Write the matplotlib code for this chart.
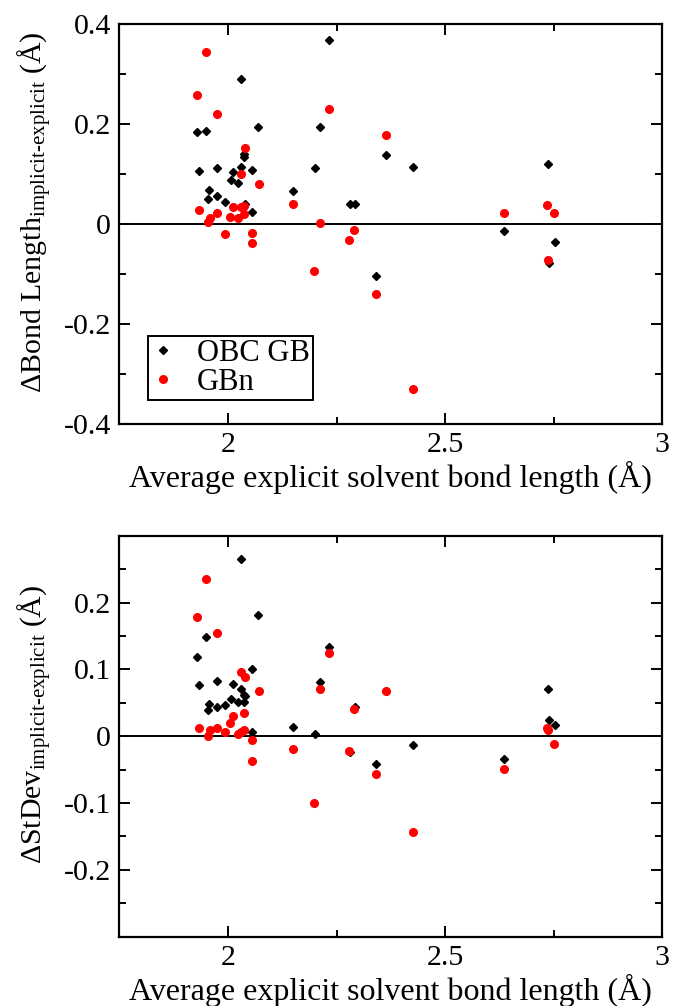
import matplotlib
matplotlib.use("Agg")
import matplotlib.pyplot as plt
from matplotlib.ticker import MultipleLocator

plt.rcParams['font.family'] = ['Liberation Serif', 'DejaVu Serif']
plt.rcParams['mathtext.fontset'] = 'custom'
plt.rcParams['mathtext.rm'] = 'Liberation Serif'
plt.rcParams['mathtext.it'] = 'Liberation Serif:italic'
plt.rcParams['axes.unicode_minus'] = False

# explicit solvent bond lengths (x) for each model
obc_x = [1.929, 1.933, 1.950, 1.953, 1.957, 1.974, 1.974, 1.993, 2.006, 2.012, 2.023,
         2.029, 2.031, 2.036, 2.037, 2.038, 2.055, 2.056, 2.069, 2.150, 2.200, 2.212,
         2.232, 2.282, 2.293, 2.340, 2.363, 2.427, 2.635, 2.737, 2.739, 2.752]
gbn_x = [1.929, 1.934, 1.949, 1.953, 1.958, 1.974, 1.974, 1.992, 2.005, 2.012, 2.023,
         2.031, 2.031, 2.037, 2.037, 2.038, 2.055, 2.055, 2.071, 2.150, 2.199, 2.212,
         2.232, 2.278, 2.290, 2.341, 2.363, 2.427, 2.635, 2.735, 2.738, 2.751]

# top panel: delta bond length
obc_len = [0.184, 0.107, 0.187, 0.051, 0.068, 0.113, 0.057, 0.045, 0.089, 0.104, 0.083,
           0.115, 0.291, 0.135, 0.140, 0.040, 0.025, 0.109, 0.195, 0.066, 0.112, 0.195,
           0.368, 0.040, 0.040, -0.104, 0.138, 0.114, -0.013, 0.121, -0.077, -0.035]
gbn_len = [0.258, 0.029, 0.345, 0.004, 0.013, 0.220, 0.022, -0.020, 0.015, 0.035, 0.012,
           0.100, 0.035, 0.037, 0.021, 0.153, -0.018, -0.038, 0.080, 0.040, -0.094, 0.002,
           0.231, -0.031, -0.011, -0.139, 0.178, -0.329, 0.023, 0.039, -0.071, 0.023]

# bottom panel: delta standard deviation
obc_sd = [0.119, 0.076, 0.148, 0.039, 0.048, 0.083, 0.044, 0.047, 0.055, 0.078, 0.051,
          0.070, 0.265, 0.062, 0.051, 0.060, 0.007, 0.101, 0.182, 0.014, 0.004, 0.081,
          0.133, -0.024, 0.043, -0.041, 0.068, -0.013, -0.034, 0.070, 0.024, 0.016]
gbn_sd = [0.178, 0.013, 0.235, 0.000, 0.010, 0.154, 0.013, 0.007, 0.020, 0.030, 0.004,
          0.096, 0.007, 0.035, 0.010, 0.088, -0.005, -0.037, 0.068, -0.019, -0.100, 0.070,
          0.125, -0.022, 0.040, -0.056, 0.067, -0.143, -0.049, 0.012, 0.010, -0.011]

x_ticks = [2, 2.5, 3]
x_tick_labels = ['2', '2.5', '3']
top_ticks = [-0.4, -0.2, 0, 0.2, 0.4]
top_tick_labels = ['-0.4', '-0.2', '0', '0.2', '0.4']
bot_ticks = [-0.2, -0.1, 0, 0.1, 0.2]
bot_tick_labels = ['-0.2', '-0.1', '0', '0.1', '0.2']

fig = plt.figure(figsize=(6.75, 10.06), dpi=100)
ax1 = fig.add_axes([0.177, 0.5785, 0.804, 0.3976])
ax2 = fig.add_axes([0.177, 0.0689, 0.804, 0.3986])


def style(ax, yticks, ylabels, yminor, ylim):
    ax.set_xlim(1.75, 3)
    ax.set_ylim(*ylim)
    ax.set_xticks(x_ticks)
    ax.set_xticklabels(x_tick_labels)
    ax.xaxis.set_minor_locator(MultipleLocator(0.25))
    ax.set_yticks(yticks)
    ax.set_yticklabels(ylabels)
    ax.yaxis.set_minor_locator(MultipleLocator(yminor))
    ax.tick_params(which='both', direction='in', top=True, right=True, width=1.4)
    ax.tick_params(which='major', length=8, labelsize=21.5, pad=6)
    ax.tick_params(which='minor', length=5)
    for s in ax.spines.values():
        s.set_linewidth(1.6)
    ax.axhline(0, color='black', lw=1.4, zorder=1)
    ax.set_xlabel('Average explicit solvent bond length (Å)', fontsize=23, labelpad=2)


ax1.plot(obc_x, obc_len, 'D', color='black', markersize=4.2, label='OBC GB', zorder=3)
ax1.plot(gbn_x, gbn_len, 'o', color='red', markersize=5.5, label='GBn', zorder=4)
style(ax1, top_ticks, top_tick_labels, 0.1, (-0.4, 0.4))
ax1.set_ylabel(r'ΔBond Length$_{\mathrm{implicit\text{-}explicit}}$ (Å)', fontsize=21.5)
ax1.yaxis.set_label_coords(-0.12, 0.53)
leg = ax1.legend(loc='lower left', bbox_to_anchor=(0.0525, 0.06), borderaxespad=0,
                 fontsize=22, frameon=True, fancybox=False, framealpha=1,
                 edgecolor='black', handlelength=0.8, handletextpad=0.7,
                 labelspacing=0.0, borderpad=0.1)
leg.get_frame().set_linewidth(1.4)

ax2.plot(obc_x, obc_sd, 'D', color='black', markersize=4.2, zorder=3)
ax2.plot(gbn_x, gbn_sd, 'o', color='red', markersize=5.5, zorder=4)
style(ax2, bot_ticks, bot_tick_labels, 0.05, (-0.3, 0.3))
ax2.set_ylabel(r'ΔStDev$_{\mathrm{implicit\text{-}explicit}}$ (Å)', fontsize=21.5)
ax2.yaxis.set_label_coords(-0.12, 0.53)

fig.savefig('out.png', dpi=100, facecolor='white')
